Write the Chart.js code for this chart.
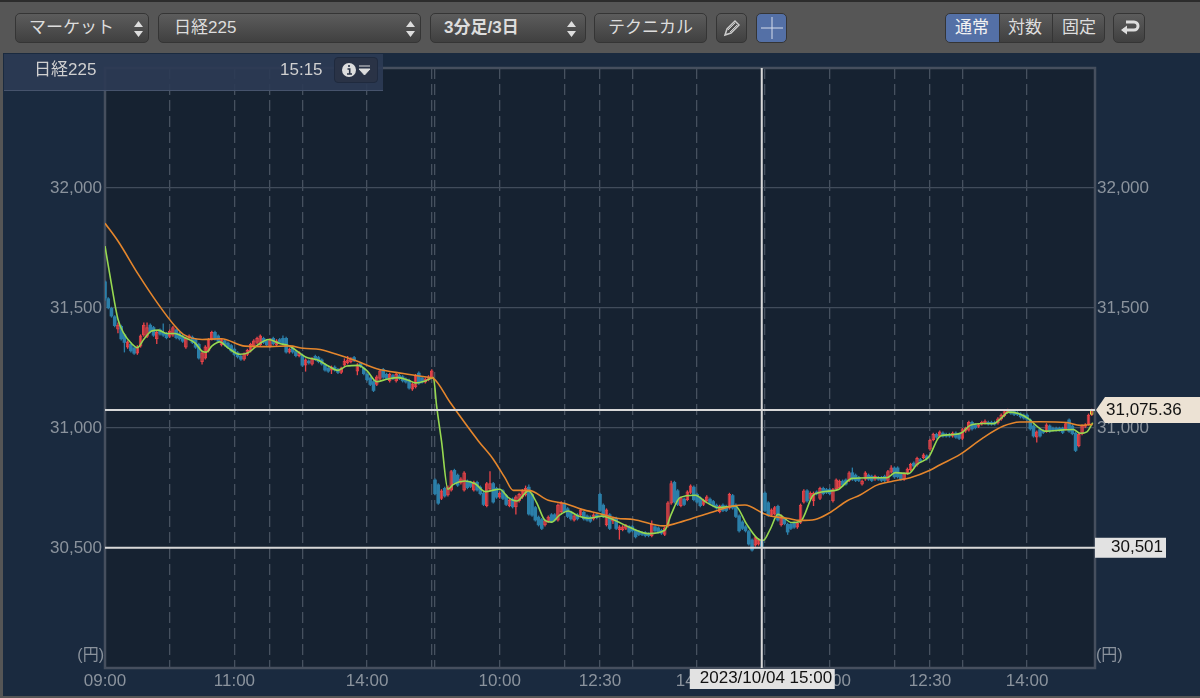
<!DOCTYPE html>
<html lang="ja">
<head>
<meta charset="utf-8">
<title>日経225</title>
<script src="https://cdn.jsdelivr.net/npm/chart.js@4"></script>
<style>
html, body { margin: 0; padding: 0; width: 1200px; height: 698px; overflow: hidden; background: #1a2a3f; }
body { position: relative; font-family: "Liberation Sans", "Noto Sans CJK JP", sans-serif; color: #ddd; }
#chart { position: absolute; left: 0; top: 0; }
#toolbar { position: absolute; left: 0; top: 0; width: 1200px; height: 53px; background: #565656; border-top: 2px solid #2c2c2c; box-sizing: border-box; }
.btn { position: absolute; top: 11px; height: 30px; box-sizing: border-box; border: 1px solid #353535; border-radius: 5px; background: linear-gradient(#5c5c5c, #404040); font-size: 17px; line-height: 28px; color: #ddd; padding-left: 13px; white-space: nowrap; }
.btn svg { position: absolute; }
.on { background: #5470a6; color: #f2f2f2; }
#info { position: absolute; left: 4px; top: 54px; width: 379px; height: 37px; background: rgba(44, 58, 84, 0.93); border-bottom: 1px solid #46536c; box-sizing: border-box; }
#info span { position: absolute; top: 6px; font-size: 17px; line-height: 20px; color: #d0d0d0; }
#grip { position: absolute; left: 12px; top: 7px; width: 7px; height: 21px; background-image: radial-gradient(#6d7a92 40%, transparent 45%); background-size: 2px 2px; }
#infoBtn { position: absolute; left: 330px; top: 3px; width: 44px; height: 26px; box-sizing: border-box; border: 1px solid #1f2a3e; border-radius: 4px; background: #2a3346; }
#edge { position: absolute; left: 0; top: 53px; width: 1200px; height: 645px; box-sizing: border-box; border-left: 3px solid #555; border-bottom: 2px solid #555; pointer-events: none; }
</style>
</head>
<body>
<canvas id="chart" width="1200" height="698"></canvas>
<div id="toolbar">
  <div class="btn" style="left:15px;width:134px">マーケット<svg style="left:117px;top:7px" width="11" height="16"><path d="M5.5 0L10 6H1zM5.5 16L1 10h9z" fill="#ddd"/></svg></div>
  <div class="btn" style="left:158px;width:263px;padding-left:15px">日経225<svg style="left:246px;top:7px" width="11" height="16"><path d="M5.5 0L10 6H1zM5.5 16L1 10h9z" fill="#ddd"/></svg></div>
  <div class="btn" style="left:430px;width:156px;font-weight:bold">3分足/3日<svg style="left:135px;top:7px" width="11" height="16"><path d="M5.5 0L10 6H1zM5.5 16L1 10h9z" fill="#ddd"/></svg></div>
  <div class="btn" style="left:594px;width:113px">テクニカル</div>
  <div class="btn" style="left:716px;width:31px"><svg style="left:6px;top:5px" width="18" height="18"><path d="M2 16l2-6L12 2l4 4-8 8z" fill="none" stroke="#ccc" stroke-width="1.5"/><path d="M5 11l7-7M7 13l7-7" stroke="#ccc"/></svg></div>
  <div class="btn on" style="left:756px;width:31px"><svg style="left:4px;top:3px" width="22" height="22"><path d="M0 11h22M11 0v22" stroke="#d5dceb" stroke-width="1"/></svg></div>
  <div class="btn on" style="left:945px;width:55px;padding-left:9px;border-radius:5px 0 0 5px">通常</div>
  <div class="btn" style="left:999px;width:54px;padding-left:8px;border-radius:0">対数</div>
  <div class="btn" style="left:1052px;width:53px;padding-left:9px;border-radius:0 5px 5px 0">固定</div>
  <div class="btn" style="left:1113px;width:32px"><svg style="left:6px;top:5px" width="20" height="18"><path d="M6 3h8a4 4 0 0 1 0 8H3" fill="none" stroke="#ddd" stroke-width="3"/><path d="M7 6.5L1 11l6 4.5z" fill="#ddd"/></svg></div>
</div>
<div id="info">
  <div id="grip"></div>
  <span style="left:30px">日経225</span>
  <span style="left:276px">15:15</span>
  <div id="infoBtn"><svg width="42" height="24"><circle cx="14" cy="12" r="7" fill="#ddd"/><path d="M14 7v2M12.5 11h2.2v5M12 16h5" stroke="#2a3346" stroke-width="1.6" fill="none"/><path d="M24 8h11M24 11h11l-5.5 6z" stroke="#ddd" stroke-width="1" fill="#ddd"/></svg></div>
</div>
<div id="edge"></div>
<script>
// 3 minute bars, three sessions, 102 bars each
const opens = [
  31610,31540,31500,31465,31410,31425,31390,31335,31350,31335,
  31310,31340,31385,31380,31430,31420,31370,31410,31400,31395,
  31380,31385,31410,31395,31385,31335,31375,31380,31370,31350,
  31275,31290,31320,31370,31400,31385,31345,31365,31355,31345,
  31330,31315,31300,31285,31305,31320,31340,31355,31345,31375,
  31365,31340,31375,31345,31370,31375,31375,31315,31335,31320,
  31300,31305,31260,31280,31265,31300,31295,31285,31265,31250,
  31240,31255,31245,31230,31260,31270,31275,31295,31235,31270,
  31250,31225,31210,31195,31180,31205,31245,31225,31195,31220,
  31195,31220,31215,31205,31200,31160,31170,31230,31210,31190,
  31200,31210,30785,30765,30705,30750,30720,30740,30825,30805,
  30770,30740,30780,30775,30740,30775,30755,30730,30675,30745,
  30770,30750,30710,30740,30720,30675,30705,30670,30695,30710,
  30720,30755,30725,30670,30630,30620,30595,30610,30640,30640,
  30615,30650,30685,30665,30650,30615,30640,30635,30650,30635,
  30630,30620,30640,30725,30680,30595,30640,30610,30625,30575,
  30575,30580,30590,30590,30575,30570,30565,30565,30560,30550,
  30590,30585,30575,30555,30590,30685,30775,30740,30675,30705,
  30700,30730,30755,30725,30710,30680,30695,30705,30695,30680,
  30650,30680,30675,30665,30720,30680,30635,30610,30590,30570,
  30535,30510,30515,30530,30730,30690,30635,30640,30675,30595,
  30625,30600,30600,30605,30585,30605,30690,30740,30705,30695,
  30735,30705,30750,30745,30745,30695,30745,30750,30780,30785,
  30780,30815,30805,30795,30765,30785,30805,30800,30785,30795,
  30795,30800,30780,30815,30835,30835,30810,30785,30810,30825,
  30855,30845,30870,30875,30885,30910,30950,30975,30965,30980,
  30975,30975,30965,30980,30975,30955,30985,30990,31025,31015,
  31005,31015,31020,31025,31025,31025,31020,31035,31050,31065,
  31070,31070,31065,31060,31055,31055,31035,31010,30960,30995,
  30990,30985,31010,31000,31000,31000,31000,30995,31035,31010,
  30980,30925,30975,31005,31015,31055
];
const closes = [
  31540,31500,31465,31425,31430,31370,31355,31360,31320,31310,
  31340,31385,31430,31420,31400,31385,31400,31390,31385,31375,
  31405,31420,31375,31370,31360,31375,31385,31355,31335,31290,
  31315,31340,31370,31400,31370,31360,31370,31345,31335,31320,
  31305,31295,31285,31310,31325,31350,31365,31375,31385,31355,
  31345,31370,31350,31365,31355,31350,31315,31330,31315,31300,
  31315,31260,31285,31270,31290,31285,31275,31265,31240,31235,
  31255,31240,31230,31250,31280,31285,31290,31280,31265,31255,
  31225,31200,31180,31155,31215,31240,31210,31205,31225,31205,
  31225,31205,31195,31190,31165,31185,31220,31185,31190,31205,
  31215,31240,30725,30685,30740,30715,30755,30820,30770,30760,
  30790,30815,30750,30755,30775,30740,30725,30680,30770,30770,
  30690,30710,30730,30705,30680,30700,30670,30715,30725,30740,
  30750,30640,30635,30615,30595,30580,30615,30630,30610,30615,
  30680,30690,30650,30630,30620,30635,30620,30660,30620,30615,
  30610,30640,30625,30655,30630,30660,30580,30625,30580,30590,
  30590,30595,30565,30570,30545,30555,30555,30550,30550,30600,
  30570,30565,30560,30585,30690,30770,30690,30680,30710,30680,
  30735,30760,30700,30690,30675,30700,30715,30685,30675,30665,
  30675,30655,30655,30725,30665,30630,30570,30580,30570,30515,
  30490,30545,30535,30505,30655,30635,30660,30670,30615,30635,
  30600,30565,30580,30585,30605,30680,30740,30695,30730,30730,
  30725,30750,30725,30730,30725,30745,30785,30780,30760,30765,
  30815,30785,30780,30780,30780,30815,30785,30780,30800,30785,
  30780,30780,30820,30835,30795,30795,30785,30810,30830,30850,
  30840,30875,30860,30890,30870,30950,30975,30960,30985,30965,
  30965,30965,30980,30960,30955,30995,31000,31025,30995,31000,
  31015,31025,31030,31015,31015,31015,31040,31055,31070,31075,
  31060,31055,31055,31045,31040,31035,30995,30965,30985,30965,
  30980,31015,30985,30990,30990,30990,30980,31020,30985,30975,
  30905,30975,31010,31015,31055,31075
];
const highs = [
  31615,31545,31505,31470,31440,31430,31395,31365,31355,31340,
  31345,31390,31440,31440,31435,31425,31405,31415,31435,31400,
  31410,31425,31415,31400,31390,31380,31390,31385,31375,31355,
  31320,31345,31375,31405,31405,31390,31375,31370,31360,31350,
  31335,31320,31305,31315,31330,31355,31370,31380,31390,31380,
  31370,31375,31380,31370,31375,31385,31380,31335,31340,31325,
  31320,31310,31290,31285,31295,31305,31300,31290,31270,31255,
  31260,31260,31250,31255,31290,31300,31295,31300,31270,31275,
  31255,31230,31215,31200,31220,31245,31250,31230,31230,31225,
  31230,31225,31220,31210,31205,31190,31225,31235,31215,31210,
  31220,31245,30790,30770,30745,30755,30760,30825,30830,30810,
  30795,30820,30785,30780,30780,30780,30760,30735,30775,30820,
  30775,30755,30735,30745,30725,30705,30710,30720,30730,30745,
  30760,30765,30730,30675,30635,30625,30620,30635,30645,30645,
  30685,30695,30690,30670,30655,30640,30645,30665,30655,30640,
  30635,30645,30645,30730,30685,30665,30645,30630,30630,30595,
  30595,30600,30595,30595,30580,30575,30570,30570,30565,30615,
  30595,30590,30580,30590,30695,30780,30780,30745,30715,30710,
  30740,30765,30760,30730,30715,30705,30720,30710,30700,30685,
  30680,30685,30680,30730,30725,30685,30640,30615,30595,30575,
  30540,30550,30540,30535,30735,30695,30665,30675,30680,30640,
  30630,30605,30605,30610,30610,30685,30745,30745,30735,30735,
  30740,30755,30755,30750,30750,30750,30790,30785,30785,30790,
  30820,30835,30810,30800,30785,30820,30810,30805,30805,30800,
  30800,30805,30825,30845,30840,30840,30815,30815,30835,30855,
  30860,30880,30875,30895,30890,30955,30980,30980,30990,30985,
  30980,30980,30985,30985,30980,31000,31005,31030,31030,31020,
  31020,31030,31035,31030,31030,31030,31045,31060,31075,31080,
  31075,31075,31070,31065,31060,31060,31040,31015,30990,31000,
  30995,31020,31015,31005,31005,31005,31005,31025,31040,31015,
  30985,30980,31015,31020,31060,31080
];
const lows = [
  31530,31495,31460,31420,31395,31365,31315,31330,31315,31305,
  31305,31335,31380,31375,31395,31380,31350,31385,31380,31370,
  31375,31380,31370,31365,31355,31330,31370,31350,31330,31285,
  31265,31285,31315,31365,31365,31355,31340,31340,31330,31315,
  31300,31290,31280,31280,31300,31315,31335,31350,31340,31350,
  31340,31335,31345,31340,31350,31345,31310,31310,31310,31295,
  31295,31255,31235,31265,31260,31280,31270,31260,31235,31230,
  31225,31235,31225,31225,31255,31265,31270,31275,31220,31250,
  31220,31195,31175,31150,31175,31200,31205,31200,31190,31200,
  31190,31200,31190,31185,31160,31155,31165,31180,31185,31185,
  31195,31205,30720,30680,30700,30710,30715,30735,30765,30755,
  30765,30735,30745,30750,30735,30735,30720,30675,30670,30735,
  30685,30705,30705,30700,30675,30670,30665,30640,30690,30705,
  30715,30635,30630,30610,30590,30575,30590,30605,30605,30610,
  30610,30645,30645,30625,30615,30610,30615,30630,30615,30610,
  30605,30615,30620,30650,30625,30590,30575,30600,30575,30535,
  30570,30575,30560,30565,30540,30550,30550,30545,30545,30545,
  30565,30560,30555,30550,30585,30680,30685,30675,30670,30675,
  30695,30725,30695,30685,30670,30675,30690,30680,30670,30660,
  30645,30650,30650,30660,30660,30625,30565,30575,30565,30510,
  30485,30505,30510,30500,30650,30630,30630,30635,30610,30590,
  30595,30555,30575,30580,30580,30600,30685,30690,30700,30675,
  30720,30700,30720,30725,30720,30690,30740,30745,30755,30760,
  30775,30780,30775,30775,30760,30780,30780,30775,30780,30780,
  30775,30775,30775,30810,30790,30790,30780,30780,30805,30820,
  30835,30840,30855,30870,30865,30905,30945,30955,30960,30960,
  30960,30960,30960,30955,30950,30950,30980,30985,30990,30995,
  31000,31010,31015,31010,31010,31010,31015,31030,31045,31060,
  31055,31050,31050,31040,31035,31030,30990,30960,30940,30960,
  30975,30980,30980,30985,30985,30985,30975,30990,30980,30970,
  30900,30920,30970,31000,31010,31050
];

// short moving average, bar number and price read at the bends
const fastBars = [0,2,4,6,8,10,12,14.4,16.5,19,21.6,24.7,27.8,30,31.4,33,35.5,38,41.7,44.3,47.4,50.5,54,57,60,62,66,69,72,74.7,78.3,81,84,87,90.7,93.8,96,99,101.5,102.5,104,106,107.7,111.3,114.4,117.5,122,124.7,127.3,130.9,133.4,136,138,140.6,143.2,146.3,149.4,153.5,157,162.3,168,173,175,177.7,182.4,186,189.6,194.8,198.4,202.5,203.5,205.6,208,212.3,214.9,219,223.6,226.7,230.9,236.5,241.7,244.3,248.4,251,254.6,258.2,262.2,264.8,267.4,271.5,274.6,277.2,279.2,282.3,285.4,288,290.6,296.2,299.3,301.4,303.5,305.3];
const fastValues = [31758,31598,31453,31390,31355,31335,31370,31404,31408,31394,31394,31376,31355,31320,31316,31341,31359,31334,31307,31314,31348,31369,31352,31342,31314,31296,31282,31258,31240,31258,31261,31238,31193,31203,31210,31199,31188,31196,31210,31092,30946,30745,30765,30779,30768,30735,30745,30710,30696,30738,30689,30615,30608,30638,30654,30633,30624,30633,30619,30585,30560,30574,30640,30710,30720,30689,30668,30675,30598,30533,30532,30578,30640,30606,30610,30721,30737,30744,30790,30793,30793,30814,30810,30849,30879,30967,30973,30980,31011,31019,31018,31043,31066,31060,31039,31008,30987,30992,30994,30978,30984,31022];

// long moving average
const slowBars = [0,4,10.3,16.5,21.6,24.2,30,36,43.3,51,57,61.3,66.5,71.6,77.8,84,92.2,100.5,101.5,106.7,115.4,120,123.6,126.2,130.9,137,142.2,147.4,153,158.2,163.3,172.6,178.8,187,194.2,197.8,203.5,205.6,210.8,214.9,219.5,224,229.3,233.4,238.6,243.7,248.9,255,258,264.3,271.5,277.7,282.8,289,297.3,301.4,305.3];
const slowValues = [31853,31779,31640,31515,31425,31390,31369,31372,31341,31339,31342,31332,31327,31307,31279,31247,31227,31210,31207,31106,30946,30870,30793,30740,30740,30699,30685,30661,30643,30624,30619,30592,30612,30647,30675,30679,30644,30633,30624,30615,30619,30647,30696,30721,30762,30779,30793,30824,30846,30890,30960,31008,31025,31026,31023,31011,31015];

// x axis, bar number of each dashed line and its label
const gridBars = [0,20,40,51,61,81,101,102,122,142,153,163,183,203,204,224,244,255,265,285];
const gridLabels = ['09:00','','11:00','','','14:00','','','10:00','','12:30','','14:00','','','10:00','','12:30','','14:00'];
const priceTicks = [32000,31500,31000,30500];

const lastPrice = 31075.36;
const lowPrice = 30501;
const crossBar = 203;
const crossLabel = '2023/10/04 15:00';
const lastCandle = 305;

const FONT = '"Liberation Sans", "Noto Sans CJK JP", sans-serif';
const RED = '#ea4449';
const BLUE = '#2b7fa9';
const TICK_COLOR = '#8b939d';

const candleColor = (i) => (closes[i] >= opens[i] ? RED : BLUE);

const plotFrame = {
    id: 'plotFrame',
    beforeDraw(chart) {
        const a = chart.chartArea;
        chart.ctx.fillStyle = '#162231';
        chart.ctx.fillRect(a.left, a.top, a.right - a.left, a.bottom - a.top);
    },
    beforeDatasetsDraw(chart) {
        const a = chart.chartArea;
        chart.ctx.strokeStyle = '#464f5e';
        chart.ctx.lineWidth = 2.5;
        chart.ctx.strokeRect(a.left, a.top, a.right - a.left, a.bottom - a.top);
    }
};

const priceTags = {
    id: 'priceTags',
    afterDraw(chart) {
        const ctx = chart.ctx;
        const y = chart.scales.y;
        const x = chart.scales.x;
        const a = chart.chartArea;
        ctx.save();

        ctx.font = '16px ' + FONT;
        ctx.fillStyle = TICK_COLOR;
        ctx.textBaseline = 'middle';
        ctx.textAlign = 'right';
        ctx.fillText('(円)', a.left - 1, 656);
        ctx.textAlign = 'left';
        ctx.fillText('(円)', a.right + 1, 656);

        ctx.font = '17px ' + FONT;
        const lastY = y.getPixelForValue(lastPrice);
        ctx.fillStyle = '#ece2d4';
        ctx.beginPath();
        ctx.moveTo(a.right + 1, lastY);
        ctx.lineTo(a.right + 10, lastY - 13);
        ctx.lineTo(1200, lastY - 13);
        ctx.lineTo(1200, lastY + 13);
        ctx.lineTo(a.right + 10, lastY + 13);
        ctx.closePath();
        ctx.fill();
        ctx.fillStyle = '#111';
        ctx.textAlign = 'left';
        ctx.fillText(lastPrice.toLocaleString('en-US'), a.right + 11, lastY);

        const lowY = y.getPixelForValue(lowPrice);
        ctx.fillStyle = '#e2e2e2';
        ctx.fillRect(a.right, lowY - 10, 71, 20);
        ctx.fillStyle = '#111';
        ctx.textAlign = 'right';
        ctx.fillText(lowPrice.toLocaleString('en-US'), a.right + 68, lowY);

        const crossX = x.getPixelForValue(crossBar);
        ctx.fillStyle = '#e2e2e2';
        ctx.fillRect(crossX - 72, a.bottom + 1, 145, 20);
        ctx.fillStyle = '#111';
        ctx.textAlign = 'left';
        ctx.fillText(crossLabel, crossX - 62, a.bottom + 10);
        ctx.restore();
    }
};

new Chart(document.getElementById('chart').getContext('2d'), {
    type: 'bar',
    data: {
        datasets: [
            {
                type: 'line',
                label: '長期',
                data: slowBars.map((b, i) => ({ x: b, y: slowValues[i] })),
                borderColor: '#e5862c',
                borderWidth: 1.6,
                pointRadius: 0,
                cubicInterpolationMode: 'monotone',
                order: 1
            },
            {
                type: 'line',
                label: '短期',
                data: fastBars.map((b, i) => ({ x: b, y: fastValues[i] })),
                borderColor: '#97d950',
                borderWidth: 1.6,
                pointRadius: 0,
                cubicInterpolationMode: 'monotone',
                order: 2
            },
            {
                type: 'line',
                label: '現在値',
                data: [{ x: 0, y: lastPrice }, { x: 306, y: lastPrice }],
                borderColor: '#d8d8d8',
                borderWidth: 2,
                pointRadius: 0,
                order: 0
            },
            {
                type: 'line',
                label: '安値',
                data: [{ x: 0, y: lowPrice }, { x: 306, y: lowPrice }],
                borderColor: '#d8d8d8',
                borderWidth: 2,
                pointRadius: 0,
                order: 0
            },
            {
                type: 'line',
                label: 'カーソル',
                data: [{ x: crossBar, y: 30000 }, { x: crossBar, y: 32500 }],
                borderColor: '#d8d8d8',
                borderWidth: 2,
                pointRadius: 0,
                order: 0
            },
            {
                label: '実体',
                data: opens.map((o, i) => ({ x: i, y: [o, closes[i]] })),
                backgroundColor: opens.map((o, i) => (closes[i] >= o ? 'rgba(234,68,73,0.3)' : BLUE)),
                borderColor: opens.map((o, i) => (i === lastCandle ? '#f5e642' : candleColor(i))),
                borderWidth: opens.map((o, i) => (closes[i] >= o ? 1 : 0)),
                borderSkipped: false,
                inflateAmount: 0,
                barThickness: 3.6,
                grouped: false,
                order: 3
            },
            {
                label: 'ヒゲ',
                data: lows.map((l, i) => ({ x: i, y: [l, highs[i]] })),
                backgroundColor: lows.map((l, i) => candleColor(i)),
                borderWidth: 0,
                inflateAmount: 0,
                barThickness: 1.3,
                grouped: false,
                order: 4
            }
        ]
    },
    options: {
        responsive: false,
        animation: false,
        layout: { padding: { top: 68 } },
        plugins: { legend: { display: false }, tooltip: { enabled: false } },
        scales: {
            x: {
                type: 'linear',
                min: 0,
                max: 306,
                offset: false,
                afterBuildTicks(scale) { scale.ticks = gridBars.map((b) => ({ value: b })); },
                afterFit(scale) { scale.height = 30; },
                grid: { offset: false, color: '#46515f', lineWidth: 1.3, drawTicks: false },
                border: { display: false, dash: [11, 5] },
                ticks: {
                    autoSkip: false,
                    maxRotation: 0,
                    padding: 3,
                    color: TICK_COLOR,
                    font: { family: FONT, size: 17 },
                    callback(value) { return gridLabels[gridBars.indexOf(value)]; }
                }
            },
            y: {
                position: 'left',
                min: 30000,
                max: 32500,
                afterBuildTicks(scale) { scale.ticks = priceTicks.map((v) => ({ value: v })); },
                afterFit(scale) { scale.width = 105; },
                grid: { color: '#414c5b', lineWidth: 1.2, drawTicks: false },
                border: { display: false },
                ticks: {
                    padding: 3,
                    color: TICK_COLOR,
                    font: { family: FONT, size: 17 },
                    callback(value) { return value.toLocaleString('en-US'); }
                }
            },
            y2: {
                position: 'right',
                min: 30000,
                max: 32500,
                afterBuildTicks(scale) { scale.ticks = priceTicks.map((v) => ({ value: v })); },
                afterFit(scale) { scale.width = 105; },
                grid: { display: false, drawTicks: false },
                border: { display: false },
                ticks: {
                    padding: 2,
                    color: TICK_COLOR,
                    font: { family: FONT, size: 17 },
                    callback(value) { return value.toLocaleString('en-US'); }
                }
            }
        }
    },
    plugins: [plotFrame, priceTags]
});
</script>
</body>
</html>
